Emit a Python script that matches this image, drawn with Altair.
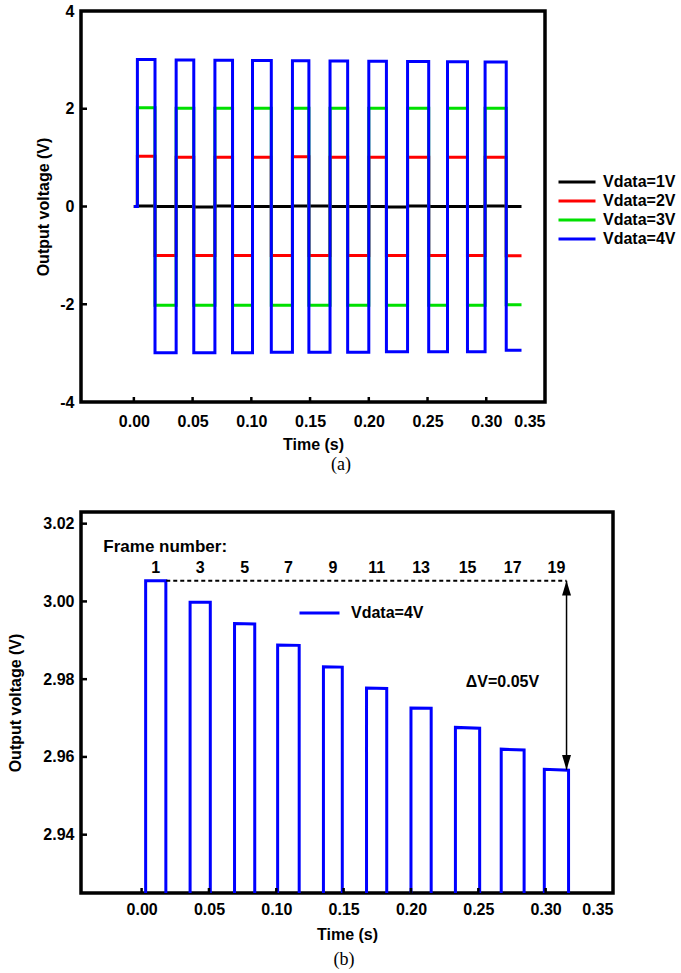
import altair as alt
import pandas as pd

# ---------------- data ----------------
rise_t = [0.003, 0.036, 0.069, 0.101, 0.135, 0.167, 0.200, 0.233, 0.267, 0.299]
fall_t = [0.018, 0.051, 0.084, 0.117, 0.149, 0.182, 0.215, 0.251, 0.284, 0.317]
end_t = 0.33

# Vdata = 4V : positive plateau (start / end of each frame) and negative plateau
v4_high_start = [3.0053, 2.9998, 2.9943, 2.9888, 2.9832, 2.9777, 2.9726, 2.9676, 2.9620, 2.9568]
v4_high_end = [3.0053, 2.9998, 2.9942, 2.9887, 2.9831, 2.9776, 2.9725, 2.9674, 2.9618, 2.9566]
v4_low = [-2.99, -2.99, -2.99, -2.98, -2.98, -2.98, -2.97, -2.97, -2.97, -2.94]

v3_high = [2.02, 2.01, 2.01, 2.01, 2.01, 2.01, 2.01, 2.01, 2.01, 2.01]
v3_low = [-2.02, -2.02, -2.02, -2.02, -2.02, -2.02, -2.02, -2.02, -2.02, -2.01]

v2_high = [1.03, 1.01, 1.01, 1.01, 1.02, 1.01, 1.01, 1.01, 1.01, 1.01]
v2_low = [-1.00, -1.00, -1.00, -1.00, -1.00, -1.00, -1.00, -1.00, -1.00, -1.01]

v1_high = [0.01, 0.00, 0.01, 0.00, 0.01, 0.00, 0.00, 0.01, 0.00, 0.01]
v1_low = [0.00, -0.01, 0.00, 0.00, 0.01, 0.00, -0.01, 0.00, 0.00, 0.00]

series_names = ["Vdata=1V", "Vdata=2V", "Vdata=3V", "Vdata=4V"]
series_colors = ["#000000", "#ff0000", "#00e000", "#0000ff"]

frame_labels = ["1", "3", "5", "7", "9", "11", "13", "15", "17", "19"]

x_ticks = [0.00, 0.05, 0.10, 0.15, 0.20, 0.25, 0.30, 0.35]
ya_ticks = [-4, -2, 0, 2, 4]
yb_ticks = [2.94, 2.96, 2.98, 3.00, 3.02]

x_domain = [-0.045, 0.35]
ya_domain = [-4, 4]
yb_domain = [2.925, 3.023]

dv_top = 3.0053
dv_bottom = 2.9567
dv_x = 0.3155
dash_x0 = 0.0183


def square_path(name, high_start, high_end, low):
    rows = [(0.0, 0.0), (rise_t[0], 0.0)]
    for k in range(len(rise_t)):
        nxt = rise_t[k + 1] if k + 1 < len(rise_t) else end_t
        rows += [(rise_t[k], high_start[k]), (fall_t[k], high_end[k]),
                 (fall_t[k], low[k]), (nxt, low[k])]
    return pd.DataFrame({"t": [r[0] for r in rows], "v": [r[1] for r in rows],
                         "i": list(range(len(rows))), "series": name})


df1 = square_path(series_names[0], v1_high, v1_high, v1_low)
df2 = square_path(series_names[1], v2_high, v2_high, v2_low)
df3 = square_path(series_names[2], v3_high, v3_high, v3_low)
df4 = square_path(series_names[3], v4_high_start, v4_high_end, v4_low)

FONT = "Liberation Sans"
W_A, H_A = 464, 391
W_B, H_B = 532, 381

xa_scale = alt.Scale(domain=x_domain, nice=False, zero=False)

# ---------------- panel (a) ----------------
color_a = alt.Color("series:N",
                    scale=alt.Scale(domain=series_names, range=series_colors),
                    legend=alt.Legend(title=None, orient="none", legendX=476, legendY=163,
                                      symbolType="stroke", symbolSize=1369, symbolStrokeWidth=3,
                                      clipHeight=16,
                                      labelFont=FONT, labelFontSize=16, labelFontWeight="bold",
                                      labelColor="black", labelOffset=6, rowPadding=3, padding=0))

x_a = alt.X("t:Q", scale=xa_scale,
            axis=alt.Axis(values=x_ticks, format=".2f", title="Time (s)",
                          labelPadding=11, titlePadding=7))
y_a = alt.Y("v:Q", scale=alt.Scale(domain=ya_domain, nice=False),
            axis=alt.Axis(values=ya_ticks, labelExpr="'' + datum.value",
                          title="Output voltage (V)", labelPadding=7, titleX=-30))


def line_layer(df):
    return alt.Chart(df).mark_line(strokeWidth=3, interpolate="linear", clip=True).encode(
        x=x_a, y=y_a, color=color_a, order="i:Q")


xt_a = alt.Chart(pd.DataFrame({"t": x_ticks[:-1]})).mark_rule(color="black", strokeWidth=2.5).encode(
    x=alt.X("t:Q", scale=xa_scale), y=alt.value(H_A), y2=alt.value(H_A - 5))
yt_a = alt.Chart(pd.DataFrame({"v": ya_ticks[1:-1]})).mark_rule(color="black", strokeWidth=2.5).encode(
    y=alt.Y("v:Q", scale=alt.Scale(domain=ya_domain, nice=False)), x=alt.value(0), x2=alt.value(6))

chart_a = alt.layer(line_layer(df1), line_layer(df2), line_layer(df3), line_layer(df4), xt_a, yt_a).properties(
    width=W_A, height=H_A,
    title=alt.TitleParams("(a)", orient="bottom", anchor="middle", frame="group",
                          font="Liberation Serif", fontSize=18, fontWeight="normal",
                          color="black", offset=4, dx=28))

# ---------------- panel (b) ----------------
yb_scale = alt.Scale(domain=yb_domain, nice=False, zero=False)
x_b = alt.X("t:Q", scale=xa_scale,
            axis=alt.Axis(values=x_ticks, format=".2f", title="Time (s)",
                          labelPadding=8, titlePadding=9))
y_b = alt.Y("v:Q", scale=yb_scale,
            axis=alt.Axis(values=yb_ticks, format=".2f",
                          title="Output voltage (V)", labelPadding=7, titleX=-58))

color_b = alt.Color("series:N",
                    scale=alt.Scale(domain=[series_names[3]], range=[series_colors[3]]),
                    legend=alt.Legend(title=None, orient="none", legendX=217, legendY=93,
                                      symbolType="stroke", symbolSize=1600, symbolStrokeWidth=3,
                                      clipHeight=16,
                                      labelFont=FONT, labelFontSize=16, labelFontWeight="bold",
                                      labelColor="black", labelOffset=10, padding=0))

line_b = alt.Chart(df4).mark_line(strokeWidth=3, clip=True).encode(
    x=x_b, y=y_b, color=color_b, order="i:Q")

dash_df = pd.DataFrame({"t": [dash_x0, dv_x], "v": [dv_top, dv_top]})
dash_b = alt.Chart(dash_df).mark_line(color="black", strokeWidth=2, strokeDash=[4, 3]).encode(
    x=alt.X("t:Q", scale=xa_scale), y=alt.Y("v:Q", scale=yb_scale))

arrow_df = pd.DataFrame({"t": [dv_x], "v": [dv_top], "v2": [dv_bottom]})
arrow_b = alt.Chart(arrow_df).mark_rule(color="black", strokeWidth=1.5).encode(
    x=alt.X("t:Q", scale=xa_scale), y=alt.Y("v:Q", scale=yb_scale), y2="v2:Q")

head_up = alt.Chart(pd.DataFrame({"t": [dv_x], "v": [dv_top]})).mark_point(
    shape="M0,0L-0.64,2.1L0.64,2.1Z", size=196, filled=True, color="black", opacity=1, strokeWidth=0).encode(
    x=alt.X("t:Q", scale=xa_scale), y=alt.Y("v:Q", scale=yb_scale))
head_dn = alt.Chart(pd.DataFrame({"t": [dv_x], "v": [dv_bottom]})).mark_point(
    shape="M0,0L-0.64,-2.1L0.64,-2.1Z", size=196, filled=True, color="black", opacity=1, strokeWidth=0).encode(
    x=alt.X("t:Q", scale=xa_scale), y=alt.Y("v:Q", scale=yb_scale))

frame_df = pd.DataFrame({"t": [(a + b) / 2 for a, b in zip(rise_t, fall_t)],
                         "v": [3.0087] * len(frame_labels), "lab": frame_labels})
frame_txt = alt.Chart(frame_df).mark_text(font=FONT, fontSize=16, fontWeight="bold", color="black",
                                          baseline="middle", align="center").encode(
    x=alt.X("t:Q", scale=xa_scale), y=alt.Y("v:Q", scale=yb_scale), text="lab:N")

fn_txt = alt.Chart(pd.DataFrame({"t": [-0.0284], "v": [3.0141], "lab": ["Frame number:"]})).mark_text(
    font=FONT, fontSize=17, fontWeight="bold", color="black", align="left", baseline="middle").encode(
    x=alt.X("t:Q", scale=xa_scale), y=alt.Y("v:Q", scale=yb_scale), text="lab:N")

dv_txt = alt.Chart(pd.DataFrame({"t": [0.2679], "v": [2.9793], "lab": ["ΔV=0.05V"]})).mark_text(
    font=FONT, fontSize=16, fontWeight="bold", color="black", align="center", baseline="middle").encode(
    x=alt.X("t:Q", scale=xa_scale), y=alt.Y("v:Q", scale=yb_scale), text="lab:N")

xt_b = alt.Chart(pd.DataFrame({"t": x_ticks[:-1]})).mark_rule(color="black", strokeWidth=2.5).encode(
    x=alt.X("t:Q", scale=xa_scale), y=alt.value(H_B), y2=alt.value(H_B - 5))
yt_b = alt.Chart(pd.DataFrame({"v": yb_ticks})).mark_rule(color="black", strokeWidth=2.5).encode(
    y=alt.Y("v:Q", scale=yb_scale), x=alt.value(0), x2=alt.value(6))

chart_b = alt.layer(line_b, dash_b, arrow_b, head_up, head_dn, frame_txt, fn_txt, dv_txt, xt_b, yt_b).properties(
    width=W_B, height=H_B,
    title=alt.TitleParams("(b)", orient="bottom", anchor="middle", frame="group",
                          font="Liberation Serif", fontSize=18, fontWeight="normal",
                          color="black", offset=9, dx=-3))

chart = alt.vconcat(chart_a, chart_b, spacing=34).resolve_scale(color="independent").resolve_legend(
    color="independent").properties(
    padding={"left": 5, "top": 1, "right": 0, "bottom": 0}
).configure(background="white").configure_view(stroke="black", strokeWidth=3.5).configure_axis(
    domain=False, ticks=False, grid=False,
    labelFont=FONT, labelFontSize=16, labelFontWeight="bold", labelColor="black",
    titleFont=FONT, titleFontSize=16, titleFontWeight="bold", titleColor="black"
)

chart.save("out.html", embed_options={"renderer": "svg", "actions": False})
